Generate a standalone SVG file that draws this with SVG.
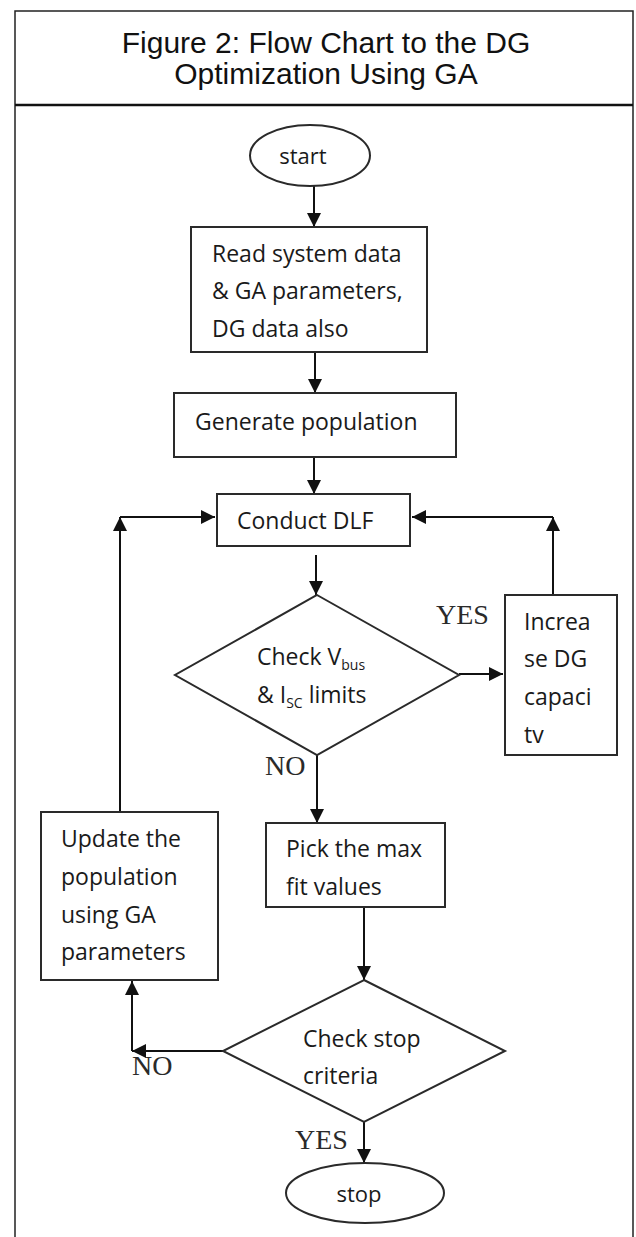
<svg xmlns="http://www.w3.org/2000/svg" width="636" height="1237" viewBox="0 0 636 1237">
<style>
.frame{fill:none;stroke:#222;stroke-width:1.5}
.box{fill:#fff;stroke:#2a2a2a;stroke-width:2}
.title{font-family:"Liberation Sans",Arial,sans-serif;font-size:30px;fill:#111;text-anchor:middle}
.t{font-family:"Open Sans","Noto Sans",sans-serif;font-size:23px;fill:#1a1a1a}
.tc{font-family:"Open Sans","Noto Sans",sans-serif;font-size:22px;fill:#1a1a1a;text-anchor:middle}
.sub{font-size:14px}
.lbl{font-family:"Liberation Serif","Times New Roman",serif;font-size:28px;fill:#2a2a2a}
.conn{fill:none;stroke:#111;stroke-width:2}
</style>
<defs>
<marker id="ah" viewBox="0 0 14 14" refX="14" refY="7" markerWidth="14" markerHeight="14" markerUnits="userSpaceOnUse" orient="auto">
<path d="M0,0 L14,7 L0,14 Z" fill="#111"/>
</marker>
</defs>
<rect width="636" height="1237" fill="#fff"/>
<g id="frame">
<path class="frame" d="M15,1237 V11 H633 V1237"/>
<line x1="15" y1="105" x2="633" y2="105" stroke="#111" stroke-width="2.5"/>
<text class="title" x="326" y="53">Figure 2: Flow Chart to the DG</text>
<text class="title" x="326" y="84">Optimization Using GA</text>
</g>
<g id="connectors">
<path class="conn" d="M314,186 V227" marker-end="url(#ah)"/>
<path class="conn" d="M315,352 V393" marker-end="url(#ah)"/>
<path class="conn" d="M314,457 V494" marker-end="url(#ah)"/>
<path class="conn" d="M316,555 V595" marker-end="url(#ah)"/>
<path class="conn" d="M459,674 H503" marker-end="url(#ah)"/>
<path class="conn" d="M553,595 V517" marker-end="url(#ah)"/>
<path class="conn" d="M553,517 H412" marker-end="url(#ah)"/>
<path class="conn" d="M317,755 V823" marker-end="url(#ah)"/>
<path class="conn" d="M364,907 V980" marker-end="url(#ah)"/>
<path class="conn" d="M223,1051 H132" marker-end="url(#ah)"/>
<path class="conn" d="M132,1051 V981" marker-end="url(#ah)"/>
<path class="conn" d="M120,812 V517" marker-end="url(#ah)"/>
<path class="conn" d="M120,517 H215" marker-end="url(#ah)"/>
<path class="conn" d="M364,1122 V1163" marker-end="url(#ah)"/>
<text class="lbl" x="436" y="624">YES</text>
<text class="lbl" x="265" y="775">NO</text>
<text class="lbl" x="132" y="1075">NO</text>
<text class="lbl" x="295" y="1149">YES</text>
</g>
<g id="start">
<ellipse class="box" cx="310" cy="155.5" rx="60" ry="30.5"/>
<text class="tc" x="303" y="164">start</text>
</g>
<g id="read">
<rect class="box" x="191" y="227" width="236" height="125"/>
<text class="t" x="212" y="262">Read system data</text>
<text class="t" x="212" y="299">&amp; GA parameters,</text>
<text class="t" x="212" y="337">DG data also</text>
</g>
<g id="generate">
<rect class="box" x="174" y="393" width="282" height="64"/>
<text class="t" x="195" y="430">Generate population</text>
</g>
<g id="conduct">
<rect class="box" x="217" y="494" width="193" height="52"/>
<text class="t" x="237" y="529">Conduct DLF</text>
</g>
<g id="check-limits">
<polygon class="box" points="317,595 459,675 317,755 175,675"/>
<text class="t" x="257" y="665">Check V<tspan class="sub" dy="5">bus</tspan></text>
<text class="t" x="257" y="703">&amp; I<tspan class="sub" dy="5">SC</tspan><tspan dy="-5"> limits</tspan></text>
</g>
<g id="increase">
<rect class="box" x="505" y="595" width="112" height="160"/>
<text class="t" x="524" y="630">Increa</text>
<text class="t" x="524" y="667">se DG</text>
<text class="t" x="524" y="705">capaci</text>
<text class="t" x="524" y="743">tv</text>
</g>
<g id="pick">
<rect class="box" x="266" y="823" width="179" height="84"/>
<text class="t" x="286" y="857">Pick the max</text>
<text class="t" x="286" y="895">fit values</text>
</g>
<g id="update">
<rect class="box" x="41" y="812" width="177" height="168"/>
<text class="t" x="61" y="847">Update the</text>
<text class="t" x="61" y="885">population</text>
<text class="t" x="61" y="923">using GA</text>
<text class="t" x="61" y="960">parameters</text>
</g>
<g id="check-stop">
<polygon class="box" points="364,980 505,1051 364,1122 223,1051"/>
<text class="t" x="303" y="1047">Check stop</text>
<text class="t" x="303" y="1084">criteria</text>
</g>
<g id="stop">
<ellipse class="box" cx="365" cy="1193" rx="79" ry="30"/>
<text class="tc" x="359" y="1202">stop</text>
</g>
</svg>
